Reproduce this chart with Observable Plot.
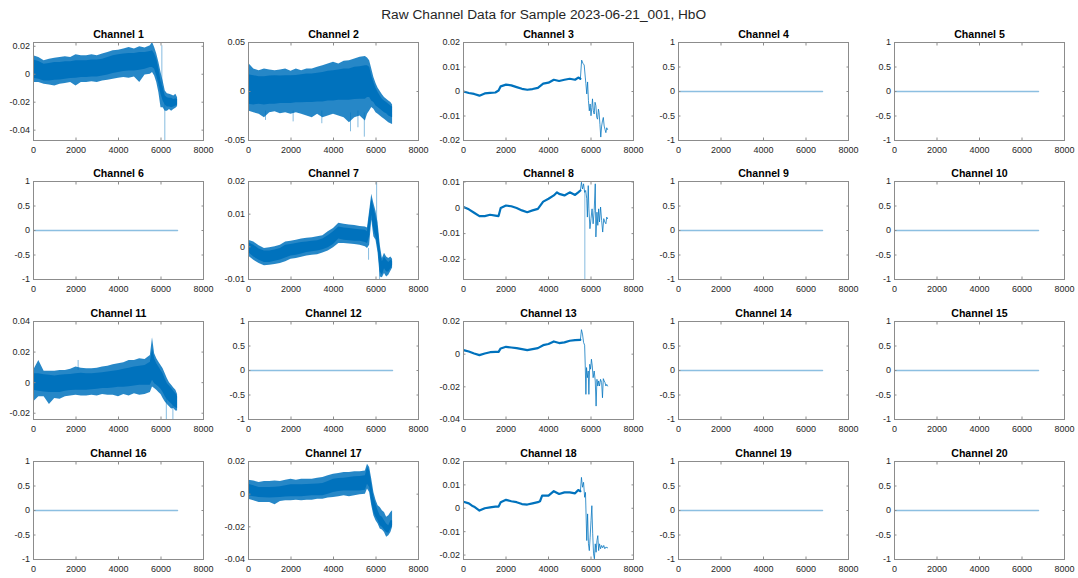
<!DOCTYPE html>
<html><head><meta charset="utf-8">
<script src="https://cdn.jsdelivr.net/npm/d3@7"></script>
<script src="https://cdn.jsdelivr.net/npm/@observablehq/plot@0.6"></script>
<style>
body{margin:0;background:#fff;}
#fig{position:relative;width:1078px;height:578px;overflow:hidden;background:#fff;font-family:"Liberation Sans",Arial,Helvetica,sans-serif;}
#title{position:absolute;top:7.5px;left:543.7px;transform:translateX(-50%);font-size:13.7px;line-height:1;color:#262626;white-space:nowrap;}
.cell{position:absolute;}
</style></head><body>
<div id="fig"><div id="title">Raw Channel Data for Sample 2023-06-21_001, HbO</div></div>
<script>
// ---------- shared axes ----------
const xTicks = [0, 2000, 4000, 6000, 8000];
const xDomain = [0, 8000];
const flatTicks = [-1, -0.5, 0, 0.5, 1];
const flatDomain = [-1, 1];
const flatX = [0, 6780];
const flatY = [0, 0];

// sample positions used for the envelope of the noisy channels
const gridX = [0,250,500,750,1000,1250,1500,1750,2000,2250,2500,2750,3000,3250,3500,3750,4000,4250,4500,4750,5000,5250,5500,5600,5700,5800,5900,6000,6100,6200,6300,6400,6500,6600,6700,6780];

// ---------- Channel 1 ----------
const ch1Domain = [-0.0474, 0.0227];
const ch1Ticks = [-0.04, -0.02, 0, 0.02];
const ch1Hi = [0.0101,0.0091,0.0072,0.0077,0.0084,0.0084,0.0089,0.0089,0.0096,0.0096,0.0096,0.0101,0.0101,0.0108,0.0120,0.0132,0.0139,0.0144,0.0149,0.0149,0.0156,0.0156,0.0163,0.0168,0.0144,0.0108,0.0036,-0.0048,-0.0096,-0.0156,-0.0168,-0.0172,-0.0172,-0.0180,-0.0175,-0.0180];
const ch1Lo = [-0.0029,-0.0036,-0.0048,-0.0048,-0.0043,-0.0041,-0.0036,-0.0031,-0.0029,-0.0024,-0.0024,-0.0019,-0.0019,-0.0012,-0.0005,0.0005,0.0012,0.0019,0.0024,0.0024,0.0029,0.0036,0.0048,0.0048,0.0036,-0.0012,-0.0072,-0.0144,-0.0192,-0.0220,-0.0235,-0.0235,-0.0240,-0.0235,-0.0228,-0.0220];
const ch1OutHi = [0.0132,0.0120,0.0096,0.0108,0.0115,0.0120,0.0125,0.0120,0.0139,0.0132,0.0132,0.0139,0.0132,0.0144,0.0156,0.0168,0.0172,0.0180,0.0192,0.0180,0.0196,0.0187,0.0204,0.0228,0.0192,0.0144,0.0084,0.0012,-0.0048,-0.0120,-0.0139,-0.0144,-0.0149,-0.0156,-0.0144,-0.0168];
const ch1OutLo = [-0.0060,-0.0060,-0.0072,-0.0077,-0.0084,-0.0072,-0.0067,-0.0060,-0.0084,-0.0060,-0.0060,-0.0053,-0.0060,-0.0048,-0.0043,-0.0036,-0.0029,-0.0024,-0.0029,-0.0019,-0.0060,-0.0005,0.0000,0.0012,-0.0012,-0.0060,-0.0132,-0.0240,-0.0240,-0.0264,-0.0264,-0.0252,-0.0264,-0.0252,-0.0244,-0.0230];
const ch1SpikeX = [6040, 6180];
const ch1SpikeY1 = [-0.0072, -0.0190];
const ch1SpikeY2 = [0.0204, -0.0474];

// ---------- Channel 2 ----------
const ch2Domain = [-0.05, 0.05];
const ch2Ticks = [-0.05, 0, 0.05];
const ch2Hi = [0.0171,0.0161,0.0151,0.0151,0.0158,0.0161,0.0158,0.0161,0.0161,0.0164,0.0171,0.0178,0.0178,0.0185,0.0195,0.0206,0.0212,0.0219,0.0229,0.0229,0.0247,0.0253,0.0264,0.0264,0.0247,0.0161,0.0092,0.0034,-0.0010,-0.0045,-0.0079,-0.0096,-0.0113,-0.0130,-0.0147,-0.0158];
const ch2Lo = [-0.0130,-0.0137,-0.0130,-0.0137,-0.0130,-0.0130,-0.0123,-0.0123,-0.0123,-0.0116,-0.0116,-0.0113,-0.0113,-0.0106,-0.0106,-0.0096,-0.0096,-0.0089,-0.0089,-0.0089,-0.0082,-0.0079,-0.0079,-0.0062,-0.0062,-0.0096,-0.0113,-0.0147,-0.0164,-0.0182,-0.0199,-0.0216,-0.0226,-0.0250,-0.0260,-0.0267];
const ch2OutHi = [0.0288,0.0229,0.0212,0.0229,0.0219,0.0212,0.0219,0.0229,0.0206,0.0229,0.0212,0.0229,0.0229,0.0247,0.0264,0.0281,0.0298,0.0281,0.0308,0.0315,0.0332,0.0349,0.0356,0.0343,0.0315,0.0229,0.0144,0.0082,0.0034,0,-0.0034,-0.0062,-0.0079,-0.0096,-0.0113,-0.0137];
const ch2OutLo = [-0.0199,-0.0216,-0.0233,-0.0267,-0.0216,-0.0206,-0.0226,-0.0216,-0.0233,-0.0216,-0.0233,-0.0250,-0.0267,-0.0233,-0.0267,-0.0250,-0.0233,-0.0250,-0.0267,-0.0319,-0.0267,-0.0250,-0.0301,-0.0233,-0.0199,-0.0164,-0.0182,-0.0216,-0.0233,-0.0250,-0.0267,-0.0284,-0.0301,-0.0319,-0.0329,-0.0336];
const ch2SpikeX = [800, 2100, 3450, 4800, 5150, 5450];
const ch2SpikeY1 = [-0.020, -0.020, -0.020, -0.022, -0.020, -0.022];
const ch2SpikeY2 = [-0.0295, -0.0310, -0.0329, -0.0411, -0.0370, -0.0466];

// ---------- Channel 3 ----------
const ch3Domain = [-0.02, 0.02];
const ch3Ticks = [-0.02, -0.01, 0, 0.01, 0.02];
const ch3X = [0,250,500,750,1000,1250,1500,1650,1750,2000,2250,2500,2750,3000,3250,3500,3750,4000,4250,4500,4750,5000,5250,5400,5500];
const ch3Y = [0,-0.0006,-0.0010,-0.0017,-0.0008,-0.0006,-0.0004,0.0004,0.0021,0.0028,0.0025,0.0018,0.0011,0.0007,0.0010,0.0015,0.0032,0.0036,0.0048,0.0043,0.0048,0.0052,0.0048,0.0057,0.0052];
const ch3TailX = [5500,5560,5620,5680,5730,5760,5800,5840,5880,5920,5960,6000,6040,6070,6110,6150,6190,6230,6270,6310,6350,6380,6420,6460,6500,6540,6580,6620,6660,6700,6740,6780];
const ch3TailY = [0.0052,0.0128,0.0115,0.0108,0.0059,0.0032,-0.0010,0.0039,-0.0037,-0.0079,-0.0051,-0.0099,-0.0065,-0.0030,-0.0079,-0.0092,-0.0044,-0.0058,-0.0106,-0.0113,-0.0072,-0.0086,-0.0134,-0.0186,-0.0141,-0.0120,-0.0106,-0.0141,-0.0155,-0.0168,-0.0148,-0.0155];

// ---------- Channel 7 ----------
const ch7Domain = [-0.01, 0.02];
const ch7Ticks = [-0.01, 0, 0.01, 0.02];
const ch7Hi = [0.0013,0.0005,-0.0007,-0.0013,-0.0013,-0.0010,-0.0005,0.0005,0.0007,0.0010,0.0013,0.0015,0.0017,0.0019,0.0024,0.0034,0.0046,0.0061,0.0058,0.0056,0.0054,0.0052,0.0051,0.0046,0.0097,0.0148,0.0118,0.0092,0.0056,-0.0010,-0.0046,-0.0031,-0.0041,-0.0048,-0.0041,-0.0044];
const ch7Lo = [-0.0017,-0.0031,-0.0041,-0.0048,-0.0048,-0.0044,-0.0040,-0.0034,-0.0028,-0.0026,-0.0022,-0.0017,-0.0015,-0.0013,-0.0009,-0.0003,0.0007,0.0024,0.0020,0.0019,0.0017,0.0017,0.0013,0.0010,0.0031,0.0097,0.0051,0.0031,-0.0005,-0.0077,-0.0087,-0.0067,-0.0077,-0.0077,-0.0067,-0.0058];
const ch7OutHi = [0.0020,0.0015,0.0003,-0.0005,-0.0003,0,0.0005,0.0015,0.0017,0.0020,0.0024,0.0026,0.0028,0.0031,0.0034,0.0046,0.0056,0.0072,0.0069,0.0067,0.0065,0.0062,0.0061,0.0058,0.0108,0.0161,0.0133,0.0108,0.0072,0.0005,-0.0036,-0.0020,-0.0031,-0.0036,-0.0031,-0.0038];
const ch7OutLo = [-0.0028,-0.0041,-0.0051,-0.0058,-0.0056,-0.0054,-0.0051,-0.0046,-0.0038,-0.0036,-0.0032,-0.0028,-0.0026,-0.0024,-0.0019,-0.0013,-0.0003,0.0010,0.0010,0.0009,0.0007,0.0005,0,-0.0005,0.0005,0.0082,0.0031,0.0020,-0.0020,-0.0092,-0.0095,-0.0082,-0.0092,-0.0087,-0.0075,-0.0065];
const ch7SpikeX = [5650, 6030, 6170];
const ch7SpikeY1 = [-0.0005, 0.0070, -0.0060];
const ch7SpikeY2 = [-0.0041, 0.0200, -0.0100];

// ---------- Channel 8 ----------
const ch8Domain = [-0.0278, 0.0102];
const ch8Ticks = [-0.02, -0.01, 0, 0.01];
const ch8X = [0,250,500,750,1000,1250,1500,1650,1750,2000,2250,2500,2750,3000,3250,3500,3750,4000,4250,4400,4500,4750,5000,5250,5400,5500];
const ch8Y = [0.0003,-0.0006,-0.0019,-0.0032,-0.0032,-0.0027,-0.0030,-0.0032,-0.0001,0.0009,0.0006,-0.0001,-0.0010,-0.0017,-0.0010,-0.0004,0.0024,0.0035,0.0048,0.0060,0.0054,0.0048,0.0060,0.0050,0.0060,0.0067];
const ch8TailX = [5500,5550,5600,5650,5700,5750,5800,5830,5870,5900,5950,6000,6050,6100,6150,6200,6230,6280,6320,6360,6400,6450,6500,6550,6600,6650,6700,6740,6780];
const ch8TailY = [0.0067,0.0099,0.0073,0.0093,0.0060,0.0067,0.0035,-0.0036,0.0086,-0.0004,-0.0081,-0.0042,-0.0004,-0.0062,-0.0010,0.0093,-0.0113,-0.0017,-0.0068,-0.0004,-0.0055,0.0003,-0.0049,-0.0094,-0.0042,-0.0055,-0.0062,-0.0036,-0.0042];
const ch8SpikeX = [5710];
const ch8SpikeY1 = [0.0067];
const ch8SpikeY2 = [-0.0278];

// ---------- Channel 11 ----------
const ch11Domain = [-0.0241, 0.04];
const ch11Ticks = [-0.02, 0, 0.02, 0.04];
const ch11Hi = [0.0059,0.0059,0.0052,0.0048,0.0043,0.0048,0.0052,0.0054,0.0059,0.0061,0.0059,0.0059,0.0061,0.0065,0.0069,0.0074,0.0080,0.0087,0.0095,0.0102,0.0108,0.0113,0.0134,0.0221,0.0156,0.0124,0.0102,0.0080,0.0059,0.0022,-0.0007,-0.0022,-0.0039,-0.0056,-0.0072,-0.0093];
const ch11Lo = [-0.0050,-0.0056,-0.0061,-0.0065,-0.0065,-0.0065,-0.0056,-0.0052,-0.0050,-0.0050,-0.0050,-0.0046,-0.0043,-0.0039,-0.0039,-0.0035,-0.0030,-0.0030,-0.0026,-0.0022,-0.0017,-0.0017,-0.0017,0.0015,-0.0007,-0.0017,-0.0028,-0.0043,-0.0065,-0.0093,-0.0111,-0.0126,-0.0139,-0.0154,-0.0165,-0.0169];
const ch11OutHi = [0.0080,0.0145,0.0074,0.0074,0.0074,0.0080,0.0080,0.0087,0.0102,0.0095,0.0091,0.0091,0.0095,0.0102,0.0108,0.0117,0.0124,0.0130,0.0145,0.0145,0.0156,0.0152,0.0178,0.0293,0.0189,0.0156,0.0134,0.0113,0.0091,0.0059,0.0026,0,-0.0017,-0.0035,-0.0050,-0.0078];
const ch11OutLo = [-0.0126,-0.0093,-0.0093,-0.0143,-0.0104,-0.0108,-0.0093,-0.0087,-0.0082,-0.0087,-0.0087,-0.0082,-0.0087,-0.0078,-0.0082,-0.0082,-0.0093,-0.0078,-0.0087,-0.0072,-0.0082,-0.0078,-0.0065,-0.0028,-0.0039,-0.0050,-0.0065,-0.0078,-0.0104,-0.0126,-0.0143,-0.0158,-0.0173,-0.0169,-0.0186,-0.0186];
const ch11SpikeX = [2100, 6250, 6560];
const ch11SpikeY1 = [0.0080, -0.0100, -0.0150];
const ch11SpikeY2 = [0.0145, -0.0241, -0.0241];

// ---------- Channel 13 ----------
const ch13Domain = [-0.04, 0.02];
const ch13Ticks = [-0.04, -0.02, 0, 0.02];
const ch13X = [0,250,500,750,1000,1250,1500,1650,1750,2000,2250,2500,2750,3000,3250,3500,3750,4000,4250,4500,4750,5000,5250,5500];
const ch13Y = [0.0025,0.0016,0.0004,-0.0006,0.0004,0.0012,0.0014,0.0014,0.0035,0.0045,0.0041,0.0037,0.0031,0.0025,0.0031,0.0037,0.0055,0.0062,0.0078,0.0068,0.0072,0.0082,0.0086,0.0088];
const ch13TailX = [5500,5550,5600,5650,5700,5730,5760,5790,5830,5870,5900,5940,5980,6020,6060,6100,6150,6200,6240,6280,6320,6360,6400,6450,6500,6540,6580,6620,6660,6700,6740,6780];
const ch13TailY = [0.0088,0.0150,0.0123,0.0072,0.0055,-0.0072,-0.0246,-0.0082,-0.0144,-0.0103,-0.0246,-0.0062,-0.0092,-0.0031,-0.0072,-0.0144,-0.0103,-0.0164,-0.0318,-0.0154,-0.0195,-0.0164,-0.0195,-0.0154,-0.0174,-0.0267,-0.0150,-0.0164,-0.0174,-0.0195,-0.0185,-0.0195];

// ---------- Channel 17 ----------
const ch17Domain = [-0.04, 0.02];
const ch17Ticks = [-0.04, -0.02, 0, 0.02];
const ch17Hi = [0.0061,0.0051,0.0041,0.0041,0.0041,0.0043,0.0045,0.0051,0.0057,0.0057,0.0057,0.0059,0.0061,0.0063,0.0065,0.0077,0.0092,0.0096,0.0098,0.0102,0.0106,0.0108,0.0112,0.0163,0.0142,0.0061,-0.0020,-0.0061,-0.0102,-0.0132,-0.0142,-0.0163,-0.0183,-0.0193,-0.0163,-0.0163];
const ch17Lo = [-0.0010,-0.0016,-0.0020,-0.0022,-0.0024,-0.0022,-0.0020,-0.0018,-0.0016,-0.0016,-0.0016,-0.0012,-0.0010,-0.0010,-0.0010,0,0.0010,0.0016,0.0020,0.0020,0.0020,0.0020,0.0024,0.0061,0.0041,-0.0051,-0.0112,-0.0142,-0.0163,-0.0193,-0.0203,-0.0220,-0.0234,-0.0240,-0.0214,-0.0193];
const ch17OutHi = [0.0085,0.0081,0.0071,0.0077,0.0077,0.0081,0.0077,0.0085,0.0092,0.0085,0.0092,0.0092,0.0092,0.0098,0.0102,0.0112,0.0122,0.0126,0.0132,0.0132,0.0138,0.0138,0.0142,0.0183,0.0163,0.0092,0.0010,-0.0037,-0.0071,-0.0081,-0.0102,-0.0112,-0.0142,-0.0132,-0.0112,-0.0102];
const ch17OutLo = [-0.0031,-0.0041,-0.0051,-0.0051,-0.0051,-0.0065,-0.0045,-0.0041,-0.0041,-0.0037,-0.0041,-0.0037,-0.0037,-0.0031,-0.0031,-0.0024,-0.0020,-0.0016,-0.0010,-0.0016,-0.0010,-0.0004,0,0.0031,0.0010,-0.0071,-0.0132,-0.0163,-0.0183,-0.0214,-0.0220,-0.0234,-0.0264,-0.0254,-0.0234,-0.0203];

// ---------- Channel 18 ----------
const ch18Domain = [-0.0219, 0.02];
const ch18Ticks = [-0.02, -0.01, 0, 0.01, 0.02];
const ch18X = [0,250,400,500,750,1000,1250,1500,1650,1750,2000,2250,2500,2750,3000,3250,3500,3600,3700,4000,4250,4500,4750,5000,5250,5400,5500];
const ch18Y = [0.0028,0.0021,0.0011,0.0007,-0.0010,0,0.0004,0.0007,0.0007,0.0026,0.0036,0.0030,0.0026,0.0018,0.0016,0.0021,0.0026,0.0030,0.0054,0.0054,0.0073,0.0061,0.0068,0.0068,0.0064,0.0078,0.0073];
const ch18TailX = [5500,5550,5600,5650,5700,5740,5780,5800,5840,5880,5920,5960,6000,6040,6080,6120,6160,6200,6240,6280,6320,6360,6400,6450,6500,6550,6600,6650,6700,6780];
const ch18TailY = [0.0073,0.0132,0.0090,0.0111,0.0047,0.0068,-0.0067,-0.0138,-0.0024,-0.0152,-0.0181,-0.0124,-0.0053,0.0011,-0.0109,-0.0195,-0.0216,-0.0152,-0.0188,-0.0138,-0.0117,-0.0181,-0.0152,-0.0173,-0.0159,-0.0169,-0.0159,-0.0173,-0.0166,-0.0169];

// ---------- table built from the arrays ----------
const specs = {
  1: {type: "band", domain: ch1Domain, ticks: ch1Ticks, hi: ch1Hi, lo: ch1Lo, outHi: ch1OutHi, outLo: ch1OutLo, sx: ch1SpikeX, sy1: ch1SpikeY1, sy2: ch1SpikeY2},
  2: {type: "band", domain: ch2Domain, ticks: ch2Ticks, hi: ch2Hi, lo: ch2Lo, outHi: ch2OutHi, outLo: ch2OutLo, sx: ch2SpikeX, sy1: ch2SpikeY1, sy2: ch2SpikeY2},
  3: {type: "line", domain: ch3Domain, ticks: ch3Ticks, x: ch3X, y: ch3Y, tx: ch3TailX, ty: ch3TailY},
  7: {type: "band", domain: ch7Domain, ticks: ch7Ticks, hi: ch7Hi, lo: ch7Lo, outHi: ch7OutHi, outLo: ch7OutLo, sx: ch7SpikeX, sy1: ch7SpikeY1, sy2: ch7SpikeY2},
  8: {type: "line", domain: ch8Domain, ticks: ch8Ticks, x: ch8X, y: ch8Y, tx: ch8TailX, ty: ch8TailY, sx: ch8SpikeX, sy1: ch8SpikeY1, sy2: ch8SpikeY2},
  11: {type: "band", domain: ch11Domain, ticks: ch11Ticks, hi: ch11Hi, lo: ch11Lo, outHi: ch11OutHi, outLo: ch11OutLo, sx: ch11SpikeX, sy1: ch11SpikeY1, sy2: ch11SpikeY2},
  13: {type: "line", domain: ch13Domain, ticks: ch13Ticks, x: ch13X, y: ch13Y, tx: ch13TailX, ty: ch13TailY},
  17: {type: "band", domain: ch17Domain, ticks: ch17Ticks, hi: ch17Hi, lo: ch17Lo, outHi: ch17OutHi, outLo: ch17OutLo},
  18: {type: "line", domain: ch18Domain, ticks: ch18Ticks, x: ch18X, y: ch18Y, tx: ch18TailX, ty: ch18TailY}
};

const BLUE = "#0072BD";
const GRAY = "#8c8c8c";
const TXT = "#262626";
const ML = 32, MR = 8, MT = 16, MB = 18, PW = 170, PH = 98;
const colLeft = c => 32.7 + 215.2 * c;
const rowTop = r => 41.7 + 139.63 * r;
const fmt = d => String(d);

const fig = document.getElementById("fig");

for (let n = 1; n <= 20; n++) {
  const s = specs[n] || {type: "flat", domain: flatDomain, ticks: flatTicks};
  const marks = [];
  if (s.type === "band") {
    const idx = d3.range(gridX.length);
    marks.push(Plot.area(idx, {x1: i => gridX[i], y1: i => s.outLo[i], y2: i => s.outHi[i], fill: BLUE, fillOpacity: 0.85, clip: true}));
    marks.push(Plot.area(idx, {x1: i => gridX[i], y1: i => s.lo[i], y2: i => s.hi[i], fill: BLUE, clip: true}));
  } else if (s.type === "line") {
    marks.push(Plot.line(d3.range(s.x.length), {x: i => s.x[i], y: i => s.y[i], stroke: BLUE, strokeWidth: 2.2, clip: true}));
    marks.push(Plot.line(d3.range(s.tx.length), {x: i => s.tx[i], y: i => s.ty[i], stroke: BLUE, strokeWidth: 0.9, strokeOpacity: 0.85, clip: true}));
  } else {
    marks.push(Plot.line(d3.range(flatX.length), {x: i => flatX[i], y: i => flatY[i], stroke: BLUE, strokeWidth: 1.3, strokeOpacity: 0.45, clip: true}));
  }
  if (s.sx) {
    marks.push(Plot.ruleX(d3.range(s.sx.length), {x: i => s.sx[i], y1: i => s.sy1[i], y2: i => s.sy2[i], stroke: BLUE, strokeWidth: 0.8, strokeOpacity: 0.6, clip: true}));
  }
  marks.push(
    Plot.frame({stroke: GRAY}),
    Plot.axisY(s.ticks, {tickSize: 0, tickPadding: 3.5, tickFormat: fmt, fontSize: 9, fill: TXT, label: null}),
    Plot.axisY(s.ticks, {tickSize: 2.5, dx: 2.5, fill: "none", stroke: GRAY, label: null}),
    Plot.axisY(s.ticks, {anchor: "right", tickSize: 2.5, dx: -2.5, fill: "none", stroke: GRAY, label: null}),
    Plot.axisX(xTicks, {tickSize: 0, tickPadding: 6.5, tickFormat: fmt, fontSize: 9, fill: TXT, label: null}),
    Plot.axisX(xTicks, {tickSize: 2.5, dy: -2.5, fill: "none", stroke: GRAY, label: null}),
    Plot.axisX(xTicks, {anchor: "top", tickSize: 2.5, dy: 2.5, fill: "none", stroke: GRAY, label: null}),
    Plot.text(["Channel " + n], {frameAnchor: "top", dy: -4.5, lineAnchor: "bottom", fontWeight: "bold", fontSize: 10.6, fill: "#000"})
  );
  const svg = Plot.plot({
    width: ML + PW + MR, height: MT + PH + MB,
    marginLeft: ML, marginRight: MR, marginTop: MT, marginBottom: MB,
    x: {domain: xDomain, label: null},
    y: {domain: s.domain, label: null},
    style: {fontFamily: '"Liberation Sans", Arial, Helvetica, sans-serif', background: "transparent", overflow: "visible"},
    marks
  });
  const r = Math.floor((n - 1) / 5), c = (n - 1) % 5;
  const wrap = document.createElement("div");
  wrap.className = "cell";
  wrap.style.left = (colLeft(c) - ML) + "px";
  wrap.style.top = (rowTop(r) - MT) + "px";
  wrap.appendChild(svg);
  fig.appendChild(wrap);
}
</script>
</body></html>
